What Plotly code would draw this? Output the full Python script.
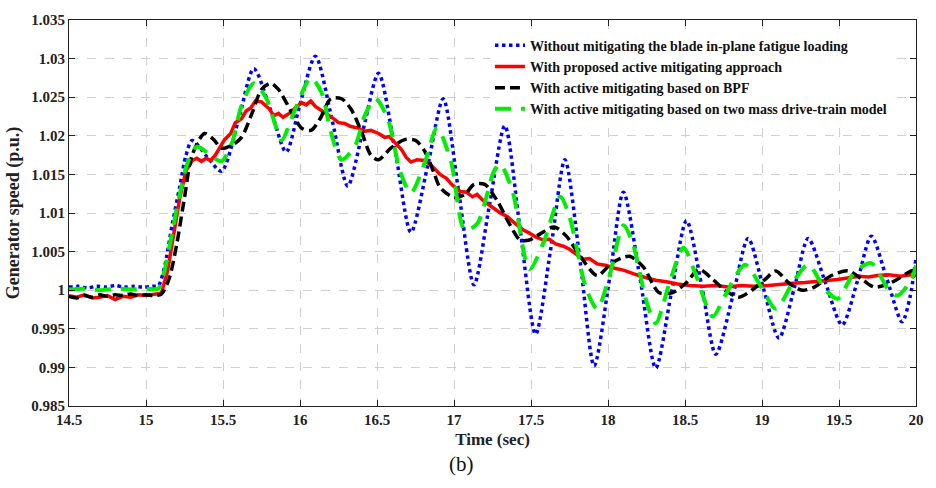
import plotly.graph_objects as go

# ---------------- data ----------------
x_ticks = [14.5, 15, 15.5, 16, 16.5, 17, 17.5, 18, 18.5, 19, 19.5, 20]
x_tick_text = ["14.5", "15", "15.5", "16", "16.5", "17", "17.5", "18", "18.5", "19", "19.5", "20"]
y_ticks = [0.985, 0.99, 0.995, 1.0, 1.005, 1.01, 1.015, 1.02, 1.025, 1.03, 1.035]
y_tick_text = ["0.985", "0.99", "0.995", "1", "1.005", "1.01", "1.015", "1.02", "1.025", "1.03", "1.035"]

series_names = [
    "Without mitigating the blade in-plane fatigue loading",
    "With proposed active mitigating approach",
    "With active mitigating based on BPF",
    "With active mitigating based on two mass drive-train model",
]

blue_t = [14.50, 14.56, 14.62, 14.68, 14.74, 14.80, 14.86, 14.92, 14.98, 15.04, 15.08, 15.12, 15.17, 15.22,
          15.26, 15.30, 15.40, 15.49, 15.60, 15.70, 15.81, 15.91, 16.00, 16.10, 16.21, 16.31, 16.41, 16.51,
          16.62, 16.72, 16.83, 16.93, 17.03, 17.13, 17.23, 17.33, 17.43, 17.53, 17.63, 17.72, 17.82, 17.91,
          18.01, 18.10, 18.21, 18.31, 18.41, 18.51, 18.61, 18.70, 18.81, 18.91, 19.01, 19.11, 19.21, 19.30,
          19.41, 19.52, 19.62, 19.71, 19.81, 19.91, 19.96, 20.00]
blue_v = [1.0004, 1.0005, 1.0003, 1.0005, 1.0004, 1.0006, 1.0004, 1.0005, 1.0004, 1.0005, 1.0006, 1.0030,
          1.0085, 1.0135, 1.0175, 1.0194, 1.0172, 1.0154, 1.0220, 1.0287, 1.0233, 1.0179, 1.0241, 1.0303,
          1.0219, 1.0135, 1.0208, 1.0281, 1.0178, 1.0075, 1.0162, 1.0248, 1.0128, 1.0007, 1.0110, 1.0213,
          1.0078, 0.9943, 1.0056, 1.0169, 1.0036, 0.9902, 1.0015, 1.0127, 1.0013, 0.9899, 0.9995, 1.0090,
          1.0004, 0.9917, 0.9992, 1.0067, 1.0002, 0.9938, 1.0003, 1.0067, 1.0011, 0.9955, 1.0012, 1.0070,
          1.0015, 0.9959, 0.9990, 1.0042]

red_t = [14.50, 14.55, 14.60, 14.65, 14.70, 14.75, 14.80, 14.85, 14.90, 14.95, 15.00, 15.05, 15.10, 15.14,
         15.18, 15.22, 15.26, 15.30, 15.33, 15.36, 15.39, 15.42, 15.45, 15.51, 15.55, 15.58, 15.62, 15.65,
         15.68, 15.71, 15.75, 15.78, 15.80, 15.83, 15.86, 15.89, 15.93, 15.97, 16.01, 16.04, 16.07, 16.10,
         16.14, 16.18, 16.22, 16.25, 16.29, 16.33, 16.38, 16.42, 16.46, 16.51, 16.55, 16.58, 16.62, 16.66,
         16.69, 16.72, 16.76, 16.81, 16.85, 16.88, 16.91, 16.95, 16.99, 17.04, 17.08, 17.12, 17.15, 17.19,
         17.22, 17.26, 17.30, 17.35, 17.38, 17.42, 17.45, 17.49, 17.53, 17.58, 17.62, 17.66, 17.71, 17.75,
         17.80, 17.84, 17.88, 17.93, 17.99, 18.05, 18.10, 18.14, 18.20, 18.25, 18.31, 18.38, 18.45, 18.53,
         18.62, 18.70, 18.78, 18.86, 18.95, 19.04, 19.12, 19.20, 19.28, 19.36, 19.44, 19.49, 19.56, 19.63,
         19.69, 19.75, 19.82, 19.90, 19.96, 20.00]
red_v = [0.9993, 0.9991, 0.9994, 0.9990, 0.9991, 0.9993, 0.9988, 0.9992, 0.9991, 0.9994, 0.9993, 0.9994,
         0.9996, 1.0025, 1.0075, 1.0120, 1.0155, 1.0168, 1.0171, 1.0167, 1.0171, 1.0168, 1.0175, 1.0195,
         1.0203, 1.0217, 1.0222, 1.0232, 1.0236, 1.0245, 1.0244, 1.0238, 1.0235, 1.0226, 1.0229, 1.0224,
         1.0229, 1.0236, 1.0243, 1.0240, 1.0245, 1.0238, 1.0233, 1.0228, 1.0222, 1.0217, 1.0216, 1.0212,
         1.0210, 1.0206, 1.0207, 1.0203, 1.0198, 1.0199, 1.0190, 1.0182, 1.0172, 1.0166, 1.0169, 1.0168,
         1.0162, 1.0156, 1.0150, 1.0145, 1.0136, 1.0128, 1.0127, 1.0121, 1.0124, 1.0116, 1.0112, 1.0106,
         1.0100, 1.0095, 1.0089, 1.0083, 1.0078, 1.0074, 1.0069, 1.0065, 1.0066, 1.0060, 1.0057, 1.0053,
         1.0046, 1.0040, 1.0041, 1.0034, 1.0032, 1.0028, 1.0026, 1.0023, 1.0019, 1.0016, 1.0013, 1.0011,
         1.0008, 1.0006, 1.0005, 1.0006, 1.0004, 1.0006, 1.0005, 1.0006, 1.0008, 1.0009, 1.0010, 1.0012,
         1.0013, 1.0014, 1.0016, 1.0018, 1.0017, 1.0019, 1.0020, 1.0018, 1.0020, 1.0019]

black_t = [14.50, 14.55, 14.60, 14.65, 14.70, 14.75, 14.80, 14.85, 14.90, 14.95, 15.00, 15.05, 15.10, 15.15,
           15.20, 15.25, 15.30, 15.38, 15.44, 15.49, 15.56, 15.62, 15.69, 15.75, 15.81, 15.86, 15.95, 16.01,
           16.07, 16.13, 16.20, 16.27, 16.33, 16.40, 16.46, 16.51, 16.59, 16.68, 16.75, 16.81, 16.87, 16.91,
           17.00, 17.07, 17.13, 17.20, 17.28, 17.36, 17.43, 17.49, 17.56, 17.65, 17.73, 17.82, 17.93, 18.03,
           18.14, 18.23, 18.33, 18.42, 18.51, 18.59, 18.68, 18.76, 18.85, 18.94, 19.02, 19.09, 19.17, 19.26,
           19.34, 19.45, 19.56, 19.65, 19.73, 19.84, 19.97, 20.00]
black_v = [0.9992, 0.9990, 0.9993, 0.9991, 0.9994, 0.9992, 0.9994, 0.9993, 0.9995, 0.9993, 0.9994, 0.9993,
           0.9995, 1.0015, 1.0060, 1.0120, 1.0175, 1.0203, 1.0195, 1.0184, 1.0188, 1.0198, 1.0230, 1.0260,
           1.0268, 1.0260, 1.0229, 1.0210, 1.0207, 1.0222, 1.0248, 1.0248, 1.0235, 1.0205, 1.0175, 1.0169,
           1.0184, 1.0195, 1.0194, 1.0180, 1.0152, 1.0133, 1.0120, 1.0124, 1.0137, 1.0137, 1.0116, 1.0086,
           1.0065, 1.0065, 1.0073, 1.0082, 1.0070, 1.0044, 1.0019, 1.0036, 1.0044, 1.0030, 0.9997, 0.9997,
           1.0010, 1.0027, 1.0014, 1.0000, 0.9991, 1.0001, 1.0014, 1.0025, 1.0010, 1.0000, 1.0004, 1.0019,
           1.0025, 1.0014, 1.0004, 1.0010, 1.0025, 1.0026]

green_t = [14.50, 14.60, 14.70, 14.80, 14.90, 15.00, 15.08, 15.12, 15.17, 15.22, 15.27, 15.33, 15.43, 15.49,
           15.56, 15.62, 15.70, 15.78, 15.84, 15.88, 15.97, 16.07, 16.14, 16.20, 16.27, 16.36, 16.42, 16.49,
           16.57, 16.65, 16.72, 16.81, 16.89, 16.98, 17.07, 17.15, 17.26, 17.30, 17.38, 17.49, 17.58, 17.69,
           17.75, 17.86, 17.93, 18.01, 18.10, 18.16, 18.25, 18.31, 18.40, 18.49, 18.57, 18.68, 18.76, 18.89,
           18.99, 19.09, 19.20, 19.30, 19.41, 19.49, 19.60, 19.71, 19.82, 19.88, 19.97, 20.00]
green_v = [1.0001, 1.0002, 1.0000, 1.0002, 1.0001, 1.0002, 1.0002, 1.0025, 1.0075, 1.0125, 1.0165, 1.0186,
           1.0173, 1.0167, 1.0192, 1.0239, 1.0268, 1.0249, 1.0214, 1.0194, 1.0235, 1.0275, 1.0256, 1.0205,
           1.0169, 1.0188, 1.0226, 1.0248, 1.0222, 1.0154, 1.0126, 1.0165, 1.0210, 1.0167, 1.0078, 1.0086,
           1.0154, 1.0163, 1.0128, 1.0027, 1.0061, 1.0121, 1.0095, 1.0001, 0.9976, 1.0019, 1.0084, 1.0061,
           0.9985, 0.9957, 1.0010, 1.0055, 1.0020, 0.9966, 0.9993, 1.0033, 1.0006, 0.9976, 1.0010, 1.0033,
           1.0001, 0.9989, 1.0023, 1.0035, 1.0001, 0.9993, 1.0014, 1.0032]

# ---------------- figure ----------------
SERIF = "Liberation Serif, Times New Roman, serif"

fig = go.Figure()
styles = [
    (blue_t, blue_v, "#0000ff", "dot", 3.5, "spline"),
    (red_t, red_v, "#ff0000", "solid", 3.5, "linear"),
    (black_t, black_v, "#000000", "10px,5px", 3.5, "spline"),
    (green_t, green_v, "#00ee00", "16px,10px", 4, "spline"),
]
for (t, v, color, dash, w, shape), name in zip(styles, series_names):
    line = dict(color=color, width=w, dash=dash, shape=shape)
    if shape == "spline":
        line["smoothing"] = 0.8
    fig.add_trace(go.Scatter(x=t, y=v, mode="lines", name=name, line=line))

axis_common = dict(
    showline=True, linecolor="#222222", linewidth=1, mirror="ticks",
    ticks="inside", ticklen=6, tickcolor="#222222",
    showgrid=True, gridcolor="#d0d0d0", griddash="dash", gridwidth=1,
    zeroline=False,
    tickfont=dict(family=SERIF, size=15, color="#222222", weight="bold"),
)

fig.update_xaxes(
    range=[14.5, 20], tickmode="array", tickvals=x_ticks, ticktext=x_tick_text,
    title=dict(text="Time (sec)", font=dict(family=SERIF, size=17, color="#222222", weight="bold"),
               standoff=6),
    **axis_common,
)
fig.update_yaxes(
    range=[0.985, 1.035], tickmode="array", tickvals=y_ticks, ticktext=y_tick_text,
    title=dict(text="Generator speed (p.u.)", font=dict(family=SERIF, size=18, color="#222222", weight="bold"),
               standoff=6),
    **axis_common,
)

fig.add_annotation(
    text="(b)", xref="paper", yref="paper", x=0.463, y=-0.15,
    xanchor="center", yanchor="middle", showarrow=False,
    font=dict(family=SERIF, size=21, color="#111111"),
)

fig.update_layout(
    width=936, height=488,
    margin=dict(l=69, r=16, t=13, b=82),
    paper_bgcolor="white", plot_bgcolor="white",
    showlegend=True,
    legend=dict(
        x=0.497, y=0.975, xanchor="left", yanchor="top",
        bgcolor="white", borderwidth=0,
        font=dict(family=SERIF, size=14, color="#111111", weight="bold"),
        tracegroupgap=0, itemwidth=30,
    ),
)

fig.write_html("out.html")
